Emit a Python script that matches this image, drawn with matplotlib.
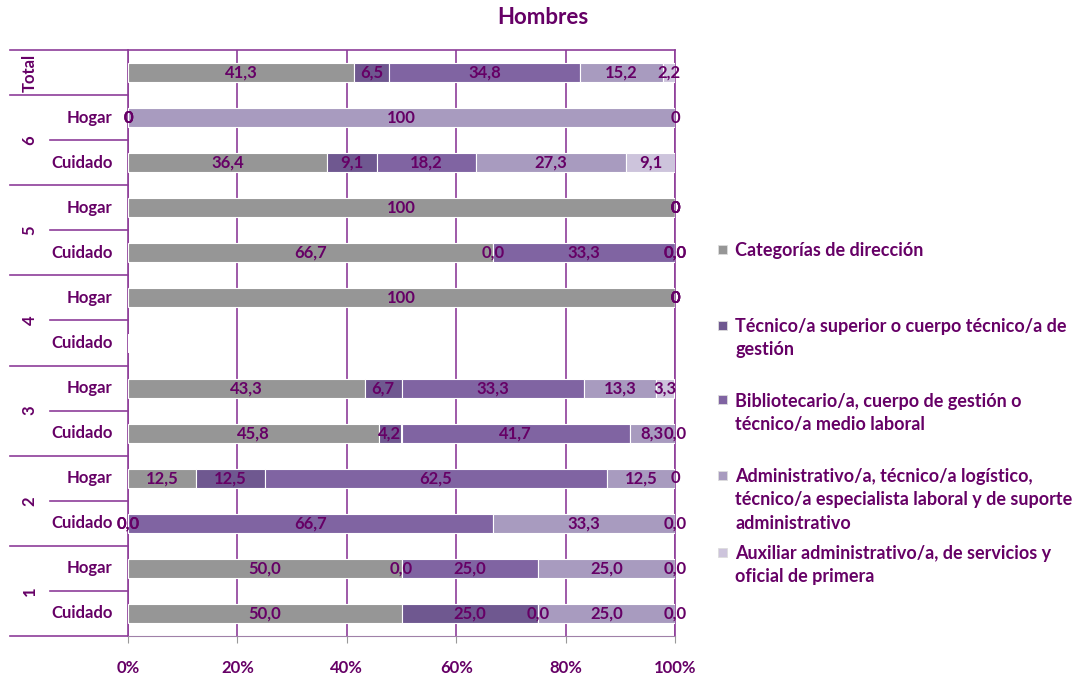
import numpy as np
import matplotlib.pyplot as plt
from matplotlib.patches import Rectangle

plt.rcParams['font.family'] = ['Lato', 'DejaVu Sans']
plt.rcParams['font.weight'] = 'bold'

# rows from top to bottom
groups = ['Total', '6', '5', '4', '3', '2', '1']
rows = ['', 'Hogar', 'Cuidado', 'Hogar', 'Cuidado', 'Hogar', 'Cuidado',
        'Hogar', 'Cuidado', 'Hogar', 'Cuidado', 'Hogar', 'Cuidado']
nan = np.nan
direccion = [41.3, 0, 36.4, 100, 66.7, 100, nan, 43.3, 45.8, 12.5, 0, 50, 50]
tecnico_sup = [6.5, 0, 9.1, 0, 0, 0, nan, 6.7, 4.2, 12.5, 0, 0, 25]
bibliotecario = [34.8, 0, 18.2, 0, 33.3, 0, nan, 33.3, 41.7, 62.5, 66.7, 25, 0]
administrativo = [15.2, 100, 27.3, 0, 0, 0, nan, 13.3, 8.3, 12.5, 33.3, 25, 25]
auxiliar = [2.2, 0, 9.1, 0, 0, 0, nan, 3.3, 0, 0, 0, 0, 0]
# label format per row: 1 decimal or plain
one_decimal = [True, False, True, False, True, False, True,
               True, True, False, True, True, True]

series = [direccion, tecnico_sup, bibliotecario, administrativo, auxiliar]
names = ['Categorías de dirección',
         'Técnico/a superior o cuerpo técnico/a de\ngestión',
         'Bibliotecario/a, cuerpo de gestión o\ntécnico/a medio laboral',
         'Administrativo/a, técnico/a logístico,\ntécnico/a especialista laboral y de suporte\nadministrativo',
         'Auxiliar administrativo/a, de servicios y\noficial de primera']
colors = ['#969696', '#6f5890', '#8064a2', '#a89bbf', '#cdc4dc']
txt = '#660066'
grid_c = '#8e3d99'

fig = plt.figure(figsize=(10.85, 6.78), dpi=100)
ax = fig.add_axes([128 / 1085, 42 / 678, 547 / 1085, 586 / 678])

y = np.arange(len(rows))
left = np.zeros(len(rows))
for vals, col in zip(series, colors):
    v = np.array(vals, dtype=float)
    ax.barh(y, np.nan_to_num(v), left=left, height=0.42, color=col,
            edgecolor='white', linewidth=0.8, zorder=3)
    for i in range(len(rows)):
        if np.isnan(v[i]):
            continue
        if one_decimal[i]:
            s = f'{v[i]:.1f}'.replace('.', ',')
        else:
            s = f'{v[i]:g}'.replace('.', ',')
        ax.text(left[i] + v[i] / 2, y[i], s, ha='center', va='center',
                color=txt, fontsize=12, fontweight='bold', zorder=4)
    left += np.nan_to_num(v)

ax.set_xlim(0, 100)
ax.set_ylim(len(rows) - 0.5, -0.5)
ax.set_xticks([0, 20, 40, 60, 80, 100])
ax.set_xticklabels(['0%', '20%', '40%', '60%', '80%', '100%'],
                   color=txt, fontsize=12, fontweight='bold')
ax.tick_params(axis='x', length=5, color='#999999', pad=12)
ax.set_yticks([])
ax.grid(axis='x', color=grid_c, linewidth=1.2, zorder=0)
for sp in ['top', 'right', 'left']:
    ax.spines[sp].set_color(grid_c)
    ax.spines[sp].set_linewidth(1.2)
ax.spines['bottom'].set_color('#a080a8')

# multi-level category axis
tr = ax.get_yaxis_transform()
bounds = [-0.5, 0.5, 2.5, 4.5, 6.5, 8.5, 10.5, 12.5]
for b in bounds:
    ax.plot([-0.216, 0], [b, b], color=grid_c, lw=1.2, transform=tr, clip_on=False)
for b in [1.5, 3.5, 5.5, 7.5, 9.5, 11.5]:
    ax.plot([-0.143, 0], [b, b], color=grid_c, lw=1.2, transform=tr, clip_on=False)
for i, r in enumerate(rows):
    ax.text(-0.028, i, r, transform=tr, ha='right', va='center',
            color=txt, fontsize=12, fontweight='bold')
for g, b0, b1 in zip(groups, bounds[:-1], bounds[1:]):
    ax.text(-0.18, (b0 + b1) / 2, g, transform=tr, ha='center', va='center',
            rotation=90, color=txt, fontsize=12, fontweight='bold')

fig.text(0.5, 1 - 18 / 678, 'Hombres', ha='center', va='center',
         color=txt, fontsize=16, fontweight='bold')

# legend
leg_y = [249, 325, 400, 475, 552]
for name, col, ly in zip(names, colors, leg_y):
    fig.patches.append(Rectangle((718 / 1085, 1 - (ly + 4.5) / 678), 9 / 1085, 9 / 678,
                                 transform=fig.transFigure, facecolor=col,
                                 edgecolor='#dddddd', lw=0.6))
    fig.text(735 / 1085, 1 - (ly - 7) / 678, name, ha='left', va='top',
             color=txt, fontsize=13, fontweight='bold', linespacing=1.45)

fig.savefig('out.png', dpi=100)
